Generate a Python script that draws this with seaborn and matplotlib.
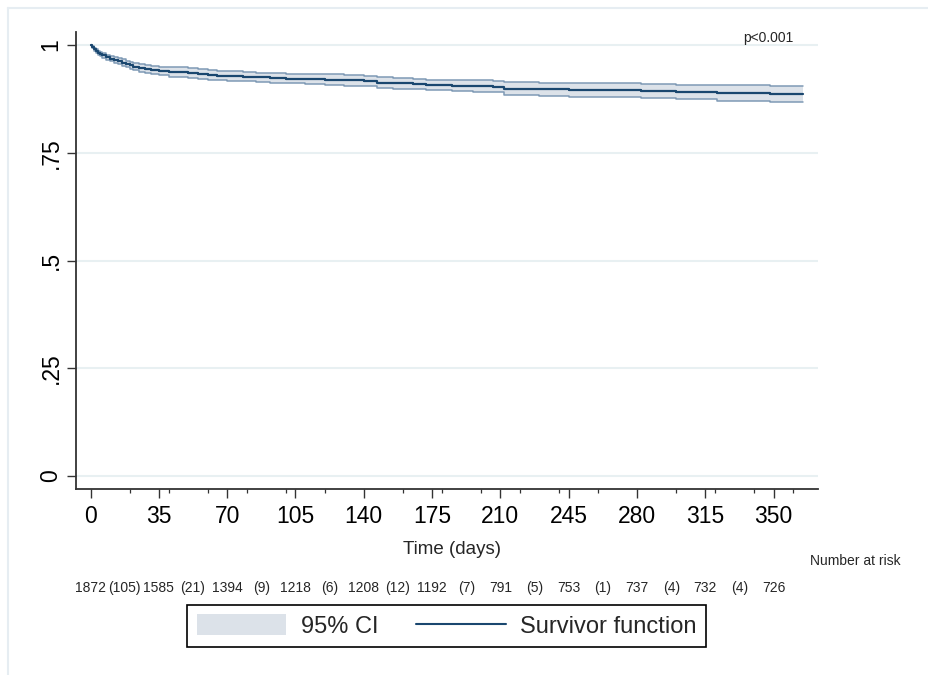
import matplotlib
matplotlib.use("Agg")
import matplotlib.pyplot as plt
import matplotlib.transforms as mtransforms
from matplotlib.patches import Patch
from matplotlib.lines import Line2D
import seaborn as sns
import pandas as pd

# ---- data ----
times = [0, 1, 2, 3, 4, 5, 6, 8, 10, 12, 14, 16, 18, 20, 22, 25, 28, 31, 35, 40,
         45, 50, 55, 60, 65, 70, 78, 85, 92, 100, 110, 120, 130, 140, 147, 155, 165, 172, 185, 196,
         206, 212, 230, 245, 282, 300, 321, 348, 365]
surv = [1.0, .995, .990, .986, .982, .979, .976, .972, .968, .965, .962, .959, .956, .953, .950, .947, .944, .942, .940, .938,
        .937, .935, .933, .931, .929, .928, .927, .925, .923, .922, .921, .920, .918, .916, .913, .911, .910, .908, .906, .905,
        .903, .899, .897, .896, .893, .891, .889, .886, .886]
lower = [1.0, .993, .987, .982, .978, .974, .971, .966, .962, .958, .955, .951, .948, .945, .941, .938, .934, .932, .930, .927,
         .926, .924, .922, .920, .918, .917, .916, .914, .912, .911, .909, .908, .906, .904, .901, .899, .898, .896, .893, .892,
         .890, .884, .882, .880, .877, .874, .871, .868, .868]
upper = [1.0, .997, .993, .990, .986, .984, .981, .978, .974, .972, .969, .967, .964, .961, .959, .956, .954, .952, .950, .949,
         .948, .946, .944, .942, .940, .939, .938, .936, .934, .933, .933, .932, .930, .928, .925, .923, .922, .920, .919, .918,
         .916, .914, .912, .912, .909, .908, .907, .904, .904]

risk_times = [0, 35, 70, 105, 140, 175, 210, 245, 280, 315, 350]
at_risk = [1872, 1585, 1394, 1218, 1208, 1192, 791, 753, 737, 732, 726]
mid_times = [17.5, 52.5, 87.5, 122.5, 157.5, 192.5, 227.5, 262.5, 297.5, 332.5]
events = [105, 21, 9, 6, 12, 7, 5, 1, 4, 4]

x_ticks = [0, 35, 70, 105, 140, 175, 210, 245, 280, 315, 350]
x_minor = [0, 20, 40, 60, 80, 100, 120, 140, 160, 180, 200, 220, 240, 260, 280, 300, 320, 340, 360]
y_ticks = [0, 0.25, 0.5, 0.75, 1.0]
y_labels = ["0", ".25", ".5", ".75", "1"]

# ---- style ----
sns.set_theme(style="white")
plt.rcParams["font.family"] = ["Liberation Sans", "DejaVu Sans"]

NAVY = "#1a476f"
CI_LINE = "#7f9ab5"
CI_FILL = "#dce2e9"
GRID = "#e8f0f2"

W, H = 929, 675
fig = plt.figure(figsize=(W / 100, H / 100), dpi=100)
fig.patch.set_facecolor("white")
ax = fig.add_axes([75.7 / W, 1 - 489.3 / H, (818 - 75.7) / W, (489.3 - 31.7) / H])

df = pd.DataFrame({"time": times, "surv": surv, "lower": lower, "upper": upper})

ax.fill_between(df["time"], df["lower"], df["upper"], step="post", color=CI_FILL, lw=0, zorder=2)
sns.lineplot(data=df, x="time", y="lower", drawstyle="steps-post", color=CI_LINE, lw=1.1,
             estimator=None, ax=ax, zorder=3)
sns.lineplot(data=df, x="time", y="upper", drawstyle="steps-post", color=CI_LINE, lw=1.1,
             estimator=None, ax=ax, zorder=3)
sns.lineplot(data=df, x="time", y="surv", drawstyle="steps-post", color=NAVY, lw=1.6,
             estimator=None, ax=ax, zorder=4)

ax.set_xlim(-7.6, 372.7)
ax.set_ylim(-0.031, 1.031)
ax.set_xticks(x_ticks)
ax.set_xticks(x_minor, minor=True)
ax.set_xticklabels([str(v) for v in x_ticks], fontsize=16.5)
ax.set_yticks(y_ticks)
ax.set_yticklabels(y_labels, fontsize=16.5, rotation=90, va="center")
ax.set_xlabel("")
ax.set_ylabel("")

ax.yaxis.grid(True, color=GRID, lw=1.5, zorder=0)
ax.xaxis.grid(False)
ax.set_axisbelow(True)

for s in ["top", "right"]:
    ax.spines[s].set_visible(False)
for s in ["left", "bottom"]:
    ax.spines[s].set_color("#333333")
    ax.spines[s].set_linewidth(1.3)

ax.tick_params(axis="both", which="major", direction="out", length=6.5, width=1.0,
               color="#333333", colors="black", bottom=True, left=True)
ax.tick_params(axis="x", which="major", pad=5)
ax.tick_params(axis="y", which="major", pad=3)
ax.tick_params(axis="x", which="minor", direction="out", length=3.2, width=0.9,
               color="#333333", bottom=True)

# number at risk row
trans = mtransforms.blended_transform_factory(ax.transData, fig.transFigure)
row_y = 1 - 588 / H
for t, n in zip(risk_times, at_risk):
    ax.text(t, row_y, str(n), transform=trans, ha="center", va="center", fontsize=10, clip_on=False)
for t, e in zip(mid_times, events):
    ax.text(t, row_y, f"({e})", transform=trans, ha="center", va="center", fontsize=10, clip_on=False)

fig.text(452 / W, 1 - 549 / H, "Time (days)", ha="center", va="center", fontsize=13.5)
fig.text(810 / W, 1 - 561 / H, "Number at risk", ha="left", va="center", fontsize=10)
fig.text(768 / W, 1 - 38 / H, "p<0.001", ha="center", va="center", fontsize=10)

handles = [Patch(facecolor=CI_FILL, edgecolor="none"), Line2D([], [], color=NAVY, lw=1.5)]
leg = fig.legend(handles, ["95% CI", "Survivor function"], ncol=2, loc="center",
                 bbox_to_anchor=(446.5 / W, 1 - 626 / H), frameon=True, fancybox=False,
                 edgecolor="black", framealpha=1, fontsize=17, handlelength=3.8,
                 handleheight=1.0, handletextpad=0.6, columnspacing=1.6, borderpad=0.4)
leg.get_frame().set_linewidth(1.2)

# faint outer frame
fig.add_artist(Line2D([8 / W, 1.0], [1 - 8 / H, 1 - 8 / H], transform=fig.transFigure,
                      color="#e6edf2", lw=1.5))
fig.add_artist(Line2D([8 / W, 8 / W], [0.0, 1 - 8 / H], transform=fig.transFigure,
                      color="#e6edf2", lw=1.5))

fig.savefig("out.png", dpi=100)
